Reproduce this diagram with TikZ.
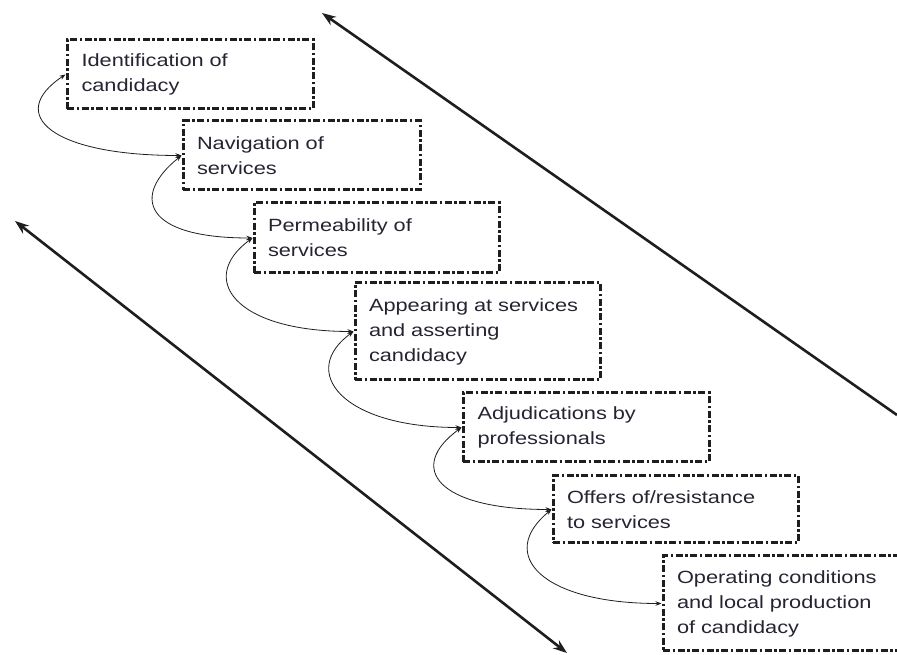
\documentclass[tikz,border=0pt]{standalone}
\usepackage{fontspec}
\setmainfont{Liberation Sans}[FakeStretch=1.23]
\usetikzlibrary{arrows.meta}
\definecolor{txtcol}{RGB}{40,35,50}
\definecolor{linecol}{RGB}{30,30,30}
\begin{document}
\begin{tikzpicture}[x=1pt,y=1pt,
  stagebox/.style={draw=linecol, line width=3pt, dash pattern=on 7pt off 2.5pt on 2.5pt off 2.5pt,
    inner xsep=14pt, inner ysep=0pt, align=left, text=txtcol,
    font=\fontsize{17.7}{25}\selectfont, minimum width=245pt, text width=217pt},
  flowline/.style={draw=linecol, line width=0.8pt, {Stealth[length=6pt,width=4.5pt]}-{Stealth[length=6pt,width=4.5pt]}},
  bigarrow/.style={draw=linecol, line width=2.6pt}
]
\useasboundingbox (0,0) rectangle (897,655);
\clip (0,0) rectangle (897,655);

\node[stagebox, minimum width=246pt, minimum height=69pt] (b1) at (190,580.5) {Identification of\\candidacy};
\node[stagebox, minimum width=237pt, text width=209pt, minimum height=69pt] (b2) at (301.5,499.5) {Navigation of\\services};
\node[stagebox, minimum height=70pt] (b3) at (376.5,417) {Permeability of\\services};
\node[stagebox, minimum height=97pt] (b4) at (477.5,323.5) {Appearing at services\\and asserting\\candidacy};
\node[stagebox, minimum width=246pt, minimum height=69pt] (b5) at (586,227.5) {Adjudications by\\professionals};
\node[stagebox, minimum height=67pt] (b6) at (675.5,145.5) {Offers of/resistance\\to services};
\node[stagebox, minimum height=95pt] (b7) at (785.5,51.5) {Operating conditions\\and local production\\of candidacy};

\draw[flowline] (b1.west) .. controls +(-60,-40) and +(-130,0) .. (b2.west);
\draw[flowline] (b2.west) .. controls +(-50,-40) and +(-110,0) .. (b3.west);
\draw[flowline] (b3.west) .. controls +(-55,-40) and +(-120,0) .. (b4.west);
\draw[flowline] (b4.west) .. controls +(-55,-40) and +(-120,0) .. (b5.west);
\draw[flowline] (b5.west) .. controls +(-55,-40) and +(-115,0) .. (b6.west);
\draw[flowline] (b6.west) .. controls +(-55,-45) and +(-120,0) .. (b7.west);

\coordinate (u1) at (322,642);
\coordinate (u2) at (897,240);
\coordinate (l1) at (15,434);
\coordinate (l2) at (567,2);
\draw[bigarrow, {Stealth[length=14pt,width=10pt]}-] (u1) -- (u2);
\draw[bigarrow, {Stealth[length=14pt,width=10pt]}-{Stealth[length=14pt,width=10pt]}] (l1) -- (l2);
\end{tikzpicture}
\end{document}
